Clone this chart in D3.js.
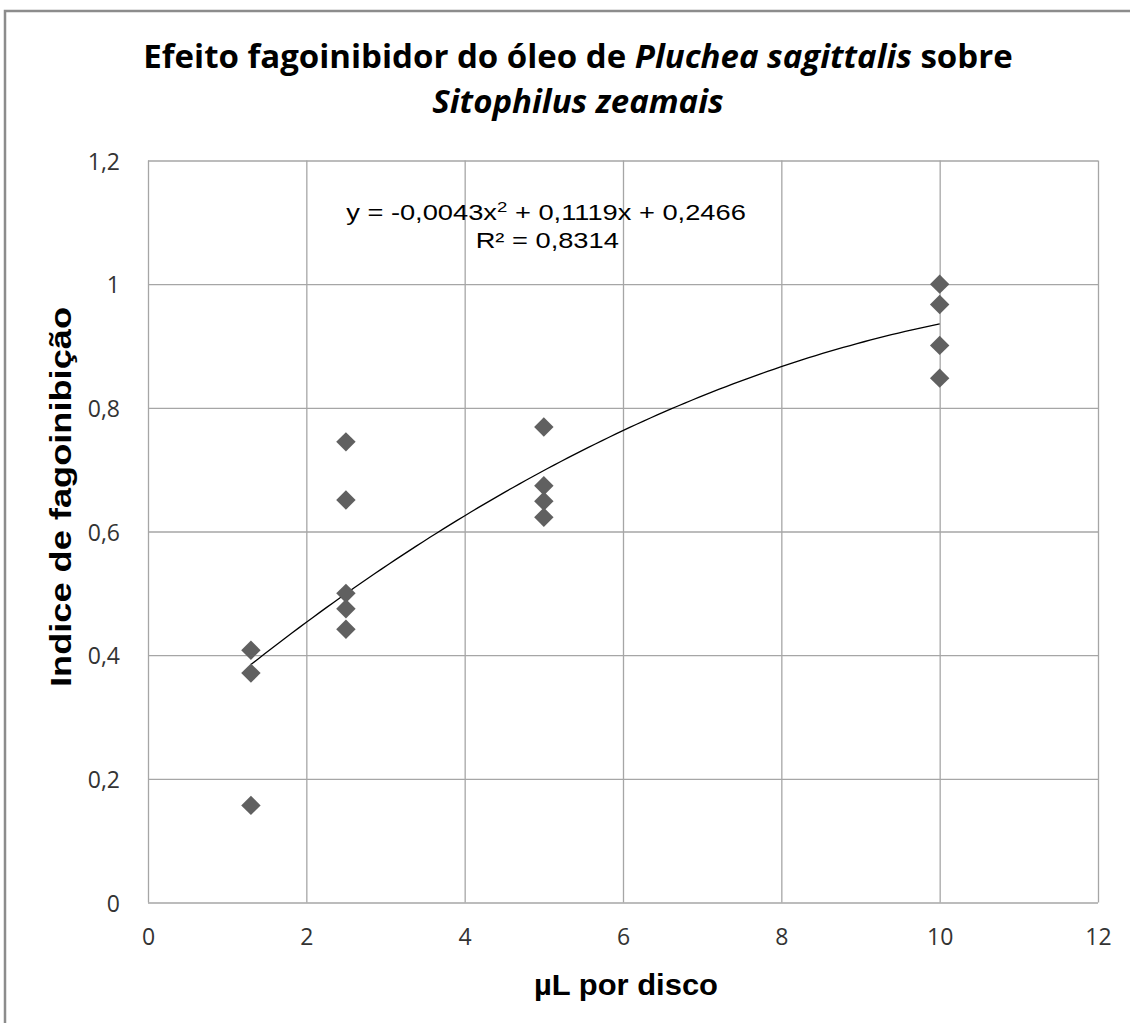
<!DOCTYPE html>
<html>
<head>
<meta charset="utf-8">
<script src="https://cdn.jsdelivr.net/npm/d3@7"></script>
<style>
  body { margin: 0; background: #fff; }
  svg { display: block; }
</style>
</head>
<body>
<div id="chart"></div>
<script>
// doses (µL por disco) and measured index, one entry per replicate
var doses = [1.3, 1.3, 1.3, 2.5, 2.5, 2.5, 2.5, 2.5, 5, 5, 5, 5, 10, 10, 10, 10];
var indexValues = [0.408, 0.371, 0.157, 0.745, 0.651, 0.500, 0.475, 0.442,
                   0.769, 0.674, 0.649, 0.623, 1.0, 0.967, 0.901, 0.848];

// polynomial trendline as reported on the chart
var trendCoef = {a: -0.0043, b: 0.1119, c: 0.2466};
var trendRange = [1.3, 10];

var xTicks = [0, 2, 4, 6, 8, 10, 12];
var yTicks = [0, 0.2, 0.4, 0.6, 0.8, 1, 1.2];

var W = 1130, H = 1023;
var margin = {top: 160.5, right: 32, bottom: 120.5, left: 148},
    width = W - margin.left - margin.right,
    height = H - margin.top - margin.bottom;

var fmt = function (d) { return String(d).replace(".", ","); };

var svg = d3.select("#chart")
    .append("svg")
    .attr("width", W)
    .attr("height", H);

// frame (only top and left edges visible)
svg.append("path")
    .attr("d", "M5,1023 V11 H1130")
    .attr("fill", "none")
    .attr("stroke", "#8c8c8c")
    .attr("stroke-width", 2.5);

// title
var title = svg.append("text")
    .attr("text-anchor", "middle")
    .style("font-family", "'Open Sans', sans-serif")
    .style("font-weight", "bold")
    .style("font-size", "33px")
    .attr("fill", "#000");

var l1 = title.append("tspan").attr("x", 578).attr("y", 68);
l1.append("tspan").text("Efeito fagoinibidor do óleo de ");
l1.append("tspan").style("font-style", "italic").text("Pluchea sagittalis");
l1.append("tspan").text(" sobre");
title.append("tspan").attr("x", 578).attr("y", 113)
    .style("font-style", "italic").text("Sitophilus zeamais");

var g = svg.append("g")
    .attr("transform", "translate(" + margin.left + "," + margin.top + ")");

var x = d3.scaleLinear().domain([0, 12]).range([0, width]);
var y = d3.scaleLinear().domain([0, 1.2]).range([height, 0]);

// gridlines
g.append("g")
    .attr("class", "grid")
    .call(d3.axisLeft(y).tickValues(yTicks).tickSize(-width).tickFormat(""))
    .call(function (s) { s.select(".domain").remove(); });

g.append("g")
    .attr("class", "grid")
    .attr("transform", "translate(0," + height + ")")
    .call(d3.axisBottom(x).tickValues(xTicks).tickSize(-height).tickFormat(""))
    .call(function (s) { s.select(".domain").remove(); });

g.selectAll(".grid line").attr("stroke", "#a6a6a6").attr("stroke-width", 1.3);

// tick labels
var yAxis = g.append("g")
    .call(d3.axisLeft(y).tickValues(yTicks).tickSize(0).tickPadding(28).tickFormat(fmt));
var xAxis = g.append("g")
    .attr("transform", "translate(0," + height + ")")
    .call(d3.axisBottom(x).tickValues(xTicks).tickSize(0).tickPadding(26).tickFormat(fmt));

[xAxis, yAxis].forEach(function (a) {
    a.select(".domain").remove();
    a.selectAll("text")
        .style("font-family", "'Open Sans', sans-serif")
        .style("font-size", "23px")
        .attr("fill", "#333");
});
yAxis.selectAll("text").attr("dy", "0.38em");

// trendline
var trendPts = d3.range(0, 101).map(function (i) {
    var xv = trendRange[0] + (trendRange[1] - trendRange[0]) * i / 100;
    return [xv, trendCoef.a * xv * xv + trendCoef.b * xv + trendCoef.c];
});

g.append("path")
    .datum(trendPts)
    .attr("fill", "none")
    .attr("stroke", "#000")
    .attr("stroke-width", 1.3)
    .attr("d", d3.line()
        .x(function (d) { return x(d[0]); })
        .y(function (d) { return y(d[1]); }));

// points
var diamond = d3.symbol().type(d3.symbolDiamond2).size(240);
g.selectAll(".pt")
    .data(doses)
    .enter()
    .append("path")
    .attr("class", "pt")
    .attr("d", diamond)
    .attr("transform", function (d, i) {
        return "translate(" + x(d) + "," + y(indexValues[i]) + ")";
    })
    .attr("fill", "#606060");

// equation label (slightly stretched, like the original)
var eq = svg.append("g")
    .attr("transform", "translate(546,0) scale(1.24,1)")
    .style("font-family", "'Liberation Sans', Arial, sans-serif")
    .style("font-size", "22px")
    .attr("fill", "#000");
var e1 = eq.append("text").attr("text-anchor", "middle").attr("x", 0).attr("y", 220);
e1.append("tspan").text("y = -0,0043x");
e1.append("tspan").attr("dy", -8).style("font-size", "15px").text("2");
e1.append("tspan").attr("dy", 8).text(" + 0,1119x + 0,2466");
eq.append("text").attr("text-anchor", "middle").attr("x", 1).attr("y", 248).text("R² = 0,8314");

// axis titles
svg.append("text")
    .attr("x", 626)
    .attr("y", 995)
    .attr("text-anchor", "middle")
    .style("font-family", "'Liberation Sans', Arial, sans-serif")
    .style("font-weight", "bold")
    .style("font-size", "30px")
    .attr("textLength", 184)
    .attr("lengthAdjust", "spacingAndGlyphs")
    .text("µL por disco");

svg.append("text")
    .attr("transform", "translate(71,497) rotate(-90)")
    .attr("text-anchor", "middle")
    .style("font-family", "'Liberation Sans', Arial, sans-serif")
    .style("font-weight", "bold")
    .style("font-size", "30px")
    .attr("textLength", 380)
    .attr("lengthAdjust", "spacingAndGlyphs")
    .text("Indice de fagoinibição");
</script>
</body>
</html>
